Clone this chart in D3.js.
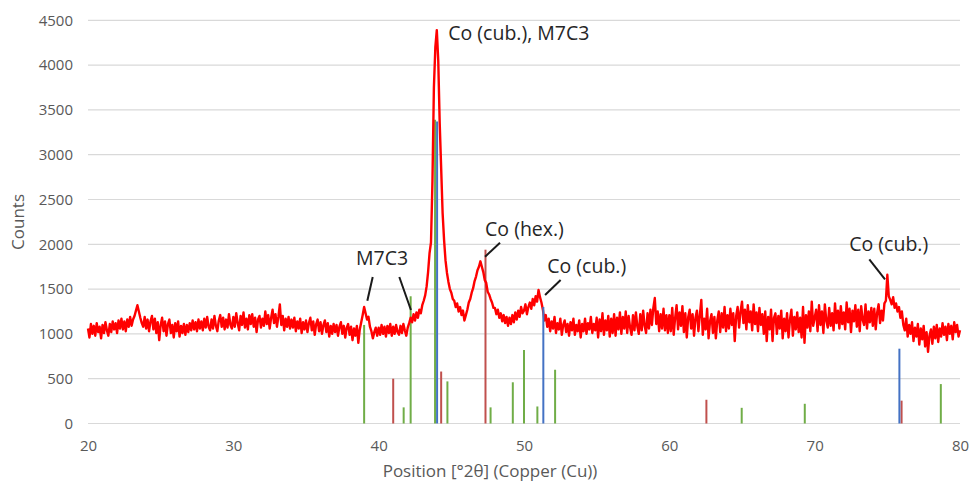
<!DOCTYPE html>
<html><head><meta charset="utf-8">
<script src="https://cdn.jsdelivr.net/npm/d3@7"></script>
<style>body{margin:0;background:#fff;} svg{display:block;font-family:"Open Sans",sans-serif;}</style>
</head><body><svg id="chart" width="973" height="484"></svg>
<script>
// ---- axes ----
const xTicks = [20, 30, 40, 50, 60, 70, 80];
const yTicks = [0, 500, 1000, 1500, 2000, 2500, 3000, 3500, 4000, 4500];
const xTitle = "Position [°2θ] (Copper (Cu))";
const yTitle = "Counts";

// ---- measured pattern: counts every 0.1 °2θ ----
const scanStart = 20, scanStep = 0.1;
const counts20 = [
1060,960,1110,1000,1090,980,1120,1020,1080,950,
1100,1010,1130,1040,980,1110,1020,1140,1050,1120,
1010,1150,1060,1170,1050,1140,1030,1160,1080,1190,
1090,1160,1200,1260,1320,1250,1180,1120,1080,1190,
1060,1160,1030,1140,1200,1050,1170,1010,1130,930,
1100,1180,1030,1140,980,1110,1160,1010,1100,960,
1120,1030,1140,970,1090,1010,1110,990,1100,1020,
1120,1040,1150,1050,1130,1030,1160,1060,1140,1040,
1170,1070,1190,1080,1040,1160,1060,1200,1090,1030,
1150,1210,1080,1180,1050,1160,1070,1220,1100,1060];
const counts30 = [
1190,1080,1230,1120,1040,1200,1100,1240,1070,1170,
1050,1210,1110,1220,1080,1180,1020,1160,1200,1070,
1170,1090,1250,1110,1210,1060,1180,1270,1120,1220,
1080,1190,1330,1100,1200,1040,1170,1080,1190,1060,
1160,1070,1180,1030,1140,1060,1170,1010,1130,1050,
1150,1020,1120,1180,1040,1140,990,1110,1160,1030,
1130,1000,1100,1150,1020,1120,970,1090,1000,1110,
1020,1100,980,1080,1130,1000,1090,960,1070,1110,
990,1080,930,1060,980,1090,900,1050,1130,1210,
1300,1230,1160,1190,1080,1030,950,1020,1070,980];
const counts40 = [
1070,990,1100,1000,1080,970,1090,1010,1110,980,
1080,1000,1100,1020,990,1090,1010,1110,1040,980,
1070,1120,1180,1130,1220,1150,1240,1180,1270,1230,
1320,1370,1430,1530,1690,1900,2020,2700,3750,4200,
4390,4050,3350,2850,2350,2050,1820,1680,1580,1500,
1460,1390,1370,1300,1340,1250,1300,1210,1260,1150,
1210,1270,1350,1390,1460,1510,1590,1640,1710,1750,
1810,1750,1690,1600,1570,1470,1440,1390,1350,1290,
1290,1220,1270,1180,1230,1140,1210,1120,1190,1090,
1180,1110,1210,1130,1240,1160,1260,1190,1300,1230];
const counts50 = [
1260,1330,1220,1300,1350,1280,1390,1320,1420,1360,
1490,1410,1350,1270,1150,1210,1080,1170,1030,1140,
1060,1190,1010,1120,1050,1170,990,1100,1150,1020,
1110,980,1130,1040,1170,990,1100,1030,1150,960,
1110,1030,1170,1000,1120,1050,1190,1010,1110,1040,
1180,960,1160,1030,1230,990,1150,1040,1200,970,
1170,1010,1220,980,1180,1050,1240,1000,1190,1060,
1250,1010,1200,1070,990,1210,1040,1240,1080,1000,
1220,1040,1260,1090,1010,1230,1060,1270,1100,1290,
1400,1110,1250,1030,1220,1060,1280,1040,1210,1010];
const counts60 = [
1210,1030,1290,990,1180,1320,1050,1240,1090,1310,
1020,1230,960,1190,1270,1060,1220,980,1180,1260,
1030,1210,1380,990,1170,1050,1280,950,1140,1220,
1010,1190,950,1150,1250,1020,1230,1070,1300,1030,
1210,1060,1280,1100,1230,920,1200,1300,1070,1250,
1360,1120,1270,1050,1320,1130,1250,1040,1330,1110,
1240,1030,1290,1100,1220,1000,1250,920,1190,1050,
1270,920,1180,1230,1000,1200,1060,1260,950,1170,
1030,1230,960,1160,1270,980,1190,1050,1240,1020,
1180,960,1300,900,1210,1070,1250,1030,1360,1090];
const counts70 = [
1180,1270,1030,1320,1100,1250,1010,1330,1150,1070,
1290,1090,1230,1040,1340,1120,1260,1060,1310,1110,
1240,1050,1350,1130,1280,1020,1260,1140,1320,1080,
1270,1030,1310,1160,1100,1330,1060,1250,1130,1290,
1090,1280,1050,1240,1330,1120,1260,1150,1340,1370,
1660,1420,1380,1330,1410,1290,1340,1250,1300,1180,
1250,1100,1040,1170,970,1100,1000,1130,920,1070,
970,1110,880,1060,940,1090,860,1020,800,980,
1050,890,1080,950,1100,910,1060,970,1120,990,
1080,930,1110,1000,1090,940,1130,1020,1100,970,
1040];

// ---- reference patterns (stick lines) ----
const m7c3Pos = [39.0, 41.72, 42.2, 43.88, 44.73, 47.7, 49.23, 50.0, 50.92, 52.14, 64.98, 69.32, 78.68];
const m7c3Int = [1100, 180, 1420, 3390, 470, 180, 460, 820, 190, 600, 175, 220, 440];
const coHexPos = [41.0, 44.3, 47.35, 62.55, 75.98];
const coHexInt = [500, 580, 1940, 265, 255];
const coCubPos = [44.02, 51.33, 75.83];
const coCubInt = [3370, 1300, 835];

// ---- annotations ----
const labelTexts = ["Co (cub.), M7C3", "M7C3", "Co (hex.)", "Co (cub.)", "Co (cub.)"];
const labelPos = [44.79, 40.23, 47.32, 51.6, 72.38];
const labelCounts = [4280, 1769, 2093, 1680, 1929];
const labelAnchors = ["start", "middle", "start", "start", "start"];
const leaderFromPos = [39.59, 41.42, 48.35, 52.52, 73.76];
const leaderFromCounts = [1635, 1635, 2018, 1601, 1833];
const leaderToPos = [39.22, 42.22, 47.32, 51.45, 74.84];
const leaderToCounts = [1370, 1267, 1862, 1434, 1609];

// ---- build ----
const counts = [].concat(counts20, counts30, counts40, counts50, counts60, counts70);
const pattern = counts.map((c, i) => ({t: scanStart + i * scanStep, c}));

const svg = d3.select("#chart");
const x = d3.scaleLinear().domain([20, 80]).range([88, 960]);
const y = d3.scaleLinear().domain([0, 4500]).range([423.5, 20.3]);

// gridlines
svg.append("g").selectAll("line").data(yTicks).join("line")
  .attr("x1", x(20)).attr("x2", x(80))
  .attr("y1", d => y(d)).attr("y2", d => y(d))
  .attr("stroke", "#d9d9d9").attr("stroke-width", 1.2);

// y axis labels
const yAxis = svg.append("g").attr("transform", `translate(${x(20) - 15},0)`)
  .call(d3.axisLeft(y).tickValues(yTicks).tickSize(0).tickPadding(0).tickFormat(d3.format("d")));
yAxis.select(".domain").remove();
yAxis.selectAll("text").attr("font-size", 15).attr("fill", "#595959").attr("font-family", "Open Sans");

// x axis labels
const xAxis = svg.append("g").attr("transform", `translate(0,${y(0) + 17})`)
  .call(d3.axisBottom(x).tickValues(xTicks).tickSize(0).tickPadding(0).tickFormat(d3.format("d")));
xAxis.select(".domain").remove();
xAxis.selectAll("text").attr("font-size", 15).attr("fill", "#595959").attr("font-family", "Open Sans");

// titles
svg.append("text").attr("x", 490).attr("y", 477).attr("text-anchor", "middle")
  .attr("font-size", 17).attr("fill", "#595959").text(xTitle);
svg.append("text").attr("transform", "translate(24,222) rotate(-90)").attr("text-anchor", "middle")
  .attr("font-size", 17).attr("fill", "#595959").text(yTitle);

// sticks
function sticks(pos, ints, color) {
  svg.append("g").selectAll("line").data(pos.map((p, i) => ({p, v: ints[i]}))).join("line")
    .attr("x1", d => x(d.p)).attr("x2", d => x(d.p))
    .attr("y1", y(0)).attr("y2", d => y(d.v))
    .attr("stroke", color).attr("stroke-width", 2);
}
sticks(m7c3Pos, m7c3Int, "#70ad47");
sticks(coHexPos, coHexInt, "#c0504d");

// pattern line
svg.append("path").datum(pattern)
  .attr("d", d3.line().x(d => x(d.t)).y(d => y(d.c)))
  .attr("fill", "none").attr("stroke", "#ff0000").attr("stroke-width", 2.4).attr("stroke-linejoin", "round");

sticks(coCubPos, coCubInt, "#4472c4");

// leaders
svg.append("g").selectAll("line").data(leaderFromPos.map((p, i) => i)).join("line")
  .attr("x1", i => x(leaderFromPos[i])).attr("y1", i => y(leaderFromCounts[i]))
  .attr("x2", i => x(leaderToPos[i])).attr("y2", i => y(leaderToCounts[i]))
  .attr("stroke", "#1a1a1a").attr("stroke-width", 2);

// labels
svg.append("g").selectAll("text").data(labelTexts.map((t, i) => i)).join("text")
  .attr("x", i => x(labelPos[i])).attr("y", i => y(labelCounts[i]))
  .attr("text-anchor", i => labelAnchors[i])
  .attr("font-size", 19.5).attr("fill", "#262626")
  .text(i => labelTexts[i]);
</script></body></html>
